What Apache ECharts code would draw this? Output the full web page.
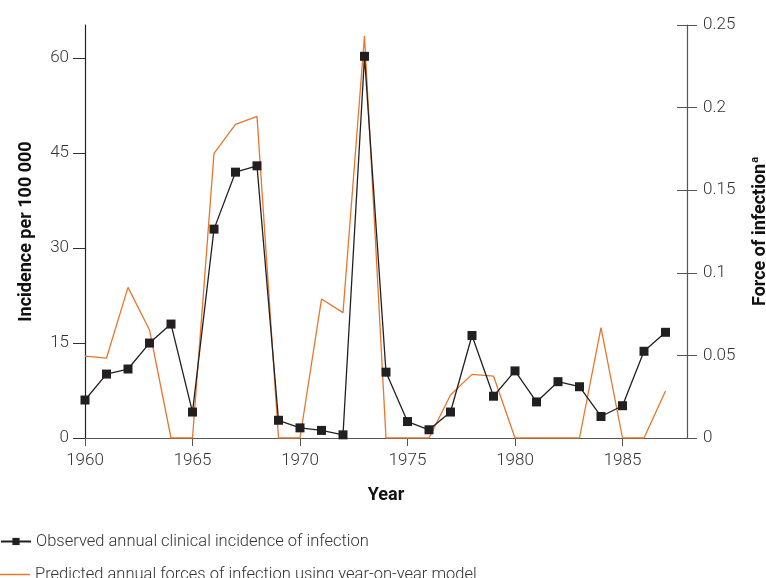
<!DOCTYPE html>
<html>
<head>
<meta charset="utf-8">
<script src="https://cdn.jsdelivr.net/npm/echarts@6/dist/echarts.min.js"></script>
<style>html,body{margin:0;padding:0;background:#fff}#c{width:766px;height:578px}</style>
</head>
<body>
<div id="c"></div>
<script>
var years = [1960,1961,1962,1963,1964,1965,1966,1967,1968,1969,1970,1971,1972,1973,1974,1975,1976,1977,1978,1979,1980,1981,1982,1983,1984,1985,1986,1987];
var observed = [6.0,10.1,10.9,15.0,18.0,4.1,33.0,42.0,43.0,2.8,1.6,1.2,0.5,60.3,10.4,2.6,1.3,4.1,16.2,6.6,10.6,5.7,8.9,8.1,3.4,5.1,13.7,16.7];
var predicted = [0.0496,0.0484,0.0912,0.0654,0,0,0.1723,0.1899,0.1947,0,0,0.0841,0.0759,0.2435,0,0,0,0.026,0.0385,0.0375,0,0,0,0,0.0668,0,0,0.0285];
var xTicks = [1960,1965,1970,1975,1980,1985];
var leftTicks = [0,15,30,45,60];
var rightTicks = [0,0.05,0.1,0.15,0.2,0.25];
var seriesNames = ['Observed annual clinical incidence of infection','Predicted annual forces of infection using year-on-year model'];

var FONT = 'Roboto';
var chart = echarts.init(document.getElementById('c'), null, {renderer:'canvas'});
function pairs(v){ return years.map(function(y,i){return [y, v[i]];}); }
var legendText = {fontSize:16.5, color:'#333', fontFamily:FONT, fontWeight:300};
chart.setOption({
  animation:false,
  backgroundColor:'#fff',
  textStyle:{fontFamily:FONT},
  grid:{left:85, right:79, top:25, bottom:140, outerBoundsMode:'none', containLabel:false},
  legend:[{
    orient:'vertical', left:0, top:533, padding:0,
    itemWidth:30, itemHeight:9,
    textStyle:legendText,
    data:[seriesNames[0]]
  },{
    orient:'vertical', left:0, top:566, padding:0,
    itemWidth:30, itemHeight:1.5, icon:'rect',
    textStyle:legendText,
    data:[seriesNames[1]]
  }],
  xAxis:{
    type:'value', min:1960, max:1988,
    name:'Year', nameLocation:'middle', nameGap:48,
    nameTextStyle:{fontSize:18, fontWeight:'bold', color:'#111', fontFamily:FONT},
    axisLine:{lineStyle:{color:'#555', width:1.2}},
    axisTick:{show:true, length:8, customValues:xTicks, lineStyle:{color:'#555'}},
    axisLabel:{customValues:xTicks, fontSize:17, color:'#333', margin:14, fontWeight:300,
      formatter:function(v){return String(v);}},
    splitLine:{show:false}
  },
  yAxis:[{
    type:'value', min:0, max:65.25, position:'left',
    name:'Incidence per 100 000', nameLocation:'middle', nameGap:50, nameRotate:90,
    nameTextStyle:{fontSize:18, fontWeight:'bold', color:'#111', fontFamily:FONT},
    axisLine:{show:true, lineStyle:{color:'#222', width:1.2}},
    axisTick:{show:true, length:12, customValues:leftTicks, lineStyle:{color:'#333'}},
    axisLabel:{customValues:leftTicks, fontSize:17, color:'#333', margin:16, fontWeight:300},
    splitLine:{show:false}
  },{
    type:'value', min:0, max:0.25, interval:0.05, position:'right',
    name:'Force of infection{sup|a}', nameLocation:'middle', nameGap:63, nameRotate:90,
    nameTextStyle:{fontSize:18, fontWeight:'bold', color:'#111', fontFamily:FONT,
      rich:{sup:{fontSize:11, fontWeight:'bold', color:'#111', fontFamily:FONT, padding:[0,0,9,1]}}},
    axisLine:{show:true, lineStyle:{color:'#555', width:1.2}},
    axisTick:{show:true, length:10, lineStyle:{color:'#555'}},
    axisLabel:{fontSize:17, color:'#333', margin:16, fontWeight:300},
    splitLine:{show:false}
  },{
    type:'value', min:0, max:0.25, interval:0.05, position:'right',
    axisLine:{show:false},
    axisTick:{show:true, inside:true, length:10, lineStyle:{color:'#555'}},
    axisLabel:{show:false},
    splitLine:{show:false}
  }],
  series:[{
    name:seriesNames[1], type:'line', yAxisIndex:1, data:pairs(predicted),
    symbol:'none', lineStyle:{color:'#E8762D', width:1.3}, itemStyle:{color:'#E8762D'}, z:2
  },{
    name:seriesNames[0], type:'line', yAxisIndex:0, data:pairs(observed),
    symbol:'rect', symbolSize:9, showSymbol:true,
    lineStyle:{color:'#231F20', width:1.3}, itemStyle:{color:'#231F20'}, z:3
  }]
});
</script>
</body>
</html>
